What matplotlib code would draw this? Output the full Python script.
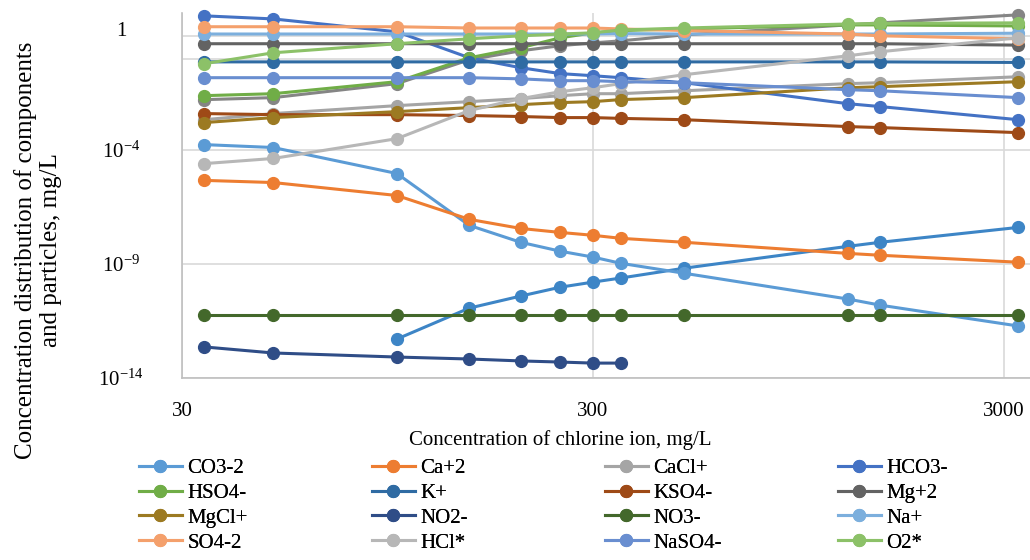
import numpy as np
import matplotlib
matplotlib.use("Agg")
import matplotlib.pyplot as plt
from matplotlib.transforms import ScaledTranslation

plt.rcParams['font.family'] = ['Liberation Serif', 'DejaVu Serif']
plt.rcParams['mathtext.fontset'] = 'custom'
plt.rcParams['mathtext.rm'] = 'Liberation Serif'
plt.rcParams['mathtext.it'] = 'Liberation Serif:italic'
plt.rcParams['mathtext.bf'] = 'Liberation Serif:bold'

# chlorine ion concentration, mg/L
chlorine = [34, 50, 100, 150, 200, 250, 300, 350, 500, 1250, 1500, 3250]
nan = np.nan

CO3 = [1.7e-4, 1.27e-4, 9.2e-6, 4.9e-8, 8.9e-9, 3.6e-9, 2.0e-9, 1.07e-9, 3.9e-10, 2.9e-11, 1.56e-11, 1.9e-12]
Ca = [4.6e-6, 3.7e-6, 1.0e-6, 9.0e-8, 3.6e-8, 2.4e-8, 1.8e-8, 1.33e-8, 8.9e-9, 2.9e-9, 2.4e-9, 1.19e-9]
CaCl = [0.0021, 0.0039, 0.0087, 0.013, 0.0176, 0.0238, 0.029, 0.029, 0.039, 0.080, 0.088, 0.161]
HCO3 = [75, 55, 15, 1.09, 0.40, 0.22, 0.178, 0.146, 0.088, 0.0106, 0.0079, 0.0021]
HSO4 = [0.0238, 0.029, 0.0975, 1.09, 3.0, 8.2, 13.5, 17, 20, 30, 30, 27]
K = [0.72, 0.72, 0.72, 0.72, 0.72, 0.72, 0.72, 0.72, 0.72, 0.72, 0.72, 0.68]
KSO4 = [0.0039, 0.0035, 0.0035, 0.0032, 0.0029, 0.0026, 0.0026, 0.0024, 0.0021, 0.00105, 0.00095, 0.00057]
Mg = [4.5, 4.5, 4.5, 4.5, 4.5, 4.5, 4.5, 4.5, 4.5, 4.5, 4.5, 3.9]
MgCl = [0.00157, 0.0026, 0.00475, 0.0071, 0.0096, 0.0118, 0.013, 0.016, 0.0195, 0.053, 0.059, 0.0975]
NO2 = [2.3e-13, 1.25e-13, 8.3e-14, 6.8e-14, 5.6e-14, 5.0e-14, 4.5e-14, 4.5e-14, nan, nan, nan, nan]
NO3 = [5.7e-12] * 12
Na = [12, 12, 12, 12, 12, 12, 12, 12.5, 12, 12, 12, 13]
SO4 = [25, 25, 25, 22, 22, 22, 22, 20, 17, 12, 10, 7.4]
HCl = [2.5e-5, 4.2e-5, 3.1e-4, 0.0053, 0.0176, 0.0356, 0.053, 0.080, 0.197, 1.33, 2.0, 8.2]
NaSO4 = [0.146, 0.146, 0.146, 0.146, 0.13, 0.108, 0.108, 0.0975, 0.088, 0.0435, 0.039, 0.0195]
O2 = [0.60, 1.8, 4.5, 7.4, 10, 12, 13.5, 18, 22, 33, 35, 37]
# two more series are drawn in the chart but not listed in its legend
extra_grey = [0.0159, 0.0195, 0.080, 0.89, 2.2, 3.7, 4.9, 6.0, 11, 30, 37, 83]
extra_blue = [nan, nan, 5.1e-13, 1.16e-11, 3.9e-11, 9.6e-11, 1.6e-10, 2.4e-10, 6.5e-10, 5.9e-9, 8.9e-9, 4.0e-8]

names = ["CO3-2", "Ca+2", "CaCl+", "HCO3-", "HSO4-", "K+", "KSO4-", "Mg+2",
         "MgCl+", "NO2-", "NO3-", "Na+", "SO4-2", "HCl*", "NaSO4-", "O2*"]
series = [CO3, Ca, CaCl, HCO3, HSO4, K, KSO4, Mg, MgCl, NO2, NO3, Na, SO4, HCl, NaSO4, O2]
colors = ["#5B9BD5", "#ED7D31", "#A5A5A5", "#4472C4", "#70AD47", "#2F6BA3", "#9E4A17", "#636363",
          "#9C7A22", "#2F4D87", "#43682B", "#7CAFDD", "#F4A06C", "#B7B7B7", "#698ED0", "#8CC168"]

fig = plt.figure(figsize=(10.3, 5.6), dpi=100)
ax = fig.add_axes([182 / 1030, 1 - 378 / 560, 1 - 182 / 1030, (378 - 13) / 560])

style = dict(marker="o", markersize=8.5, linewidth=2.2, clip_on=False)
ax.plot(chlorine, extra_grey, color="#858585", **style)
ax.plot(chlorine, extra_blue, color="#3D85C6", **style)
handles = []
for name, vals, c in zip(names, series, colors):
    h, = ax.plot(chlorine, vals, color=c, label=name, **style)
    handles.append(h)

ax.set_xscale("log")
ax.set_yscale("log")
ax.set_xlim(30, 3470)
ax.set_ylim(1e-14, 1e2)

ax.set_xticks([30, 300, 3000])
ax.set_xticklabels(["30", "300", "3000"])
ax.xaxis.set_minor_locator(matplotlib.ticker.NullLocator())
ax.set_yticks([1e-14, 1e-9, 1e-4, 1e1])
ax.set_yticklabels([r"10$^{\mathregular{-14}}$", r"10$^{\mathregular{-9}}$", r"10$^{\mathregular{-4}}$", "1"])
ax.yaxis.set_minor_locator(matplotlib.ticker.NullLocator())
ax.tick_params(axis="x", length=0, labelsize=15, pad=17)
ax.tick_params(axis="y", length=0, labelsize=15, pad=44)
for lab in ax.get_yticklabels():
    lab.set_horizontalalignment("center")
ylabs = ax.get_yticklabels()
ylabs[-1].set_transform(ylabs[-1].get_transform() + ScaledTranslation(0, 5 / 72, fig.dpi_scale_trans))

ax.grid(True, color="#D9D9D9", linewidth=1.2)
ax.axhline(1e0, color="#D9D9D9", linewidth=1.2, zorder=0)
ax.set_axisbelow(True)
for s in ["top", "right"]:
    ax.spines[s].set_visible(False)
for s in ["left", "bottom"]:
    ax.spines[s].set_color("#BFBFBF")
    ax.spines[s].set_linewidth(1.2)

fig.text(560 / 1030, 1 - 440 / 560, "Concentration of chlorine ion, mg/L",
         ha="center", va="center", fontsize=15)
fig.text(38 / 1030, 1 - 250 / 560, "Concentration distribution of components\nand particles, mg/L",
         ha="center", va="center", rotation=90, fontsize=18, linespacing=1.2)

# one legend per column so the columns sit on an even pitch, read row by row
for col in range(4):
    idx = [col + 4 * r for r in range(4)]
    leg = fig.legend([handles[i] for i in idx], [names[i] for i in idx],
                     loc="upper left", bbox_to_anchor=((124 + 233 * col) / 1030, 1 - 444 / 560),
                     frameon=False, fontsize=15, handlelength=2.1, handletextpad=0.25,
                     labelspacing=0.25, borderpad=0.2)
    fig.add_artist(leg)

fig.savefig("out.png", dpi=100)
